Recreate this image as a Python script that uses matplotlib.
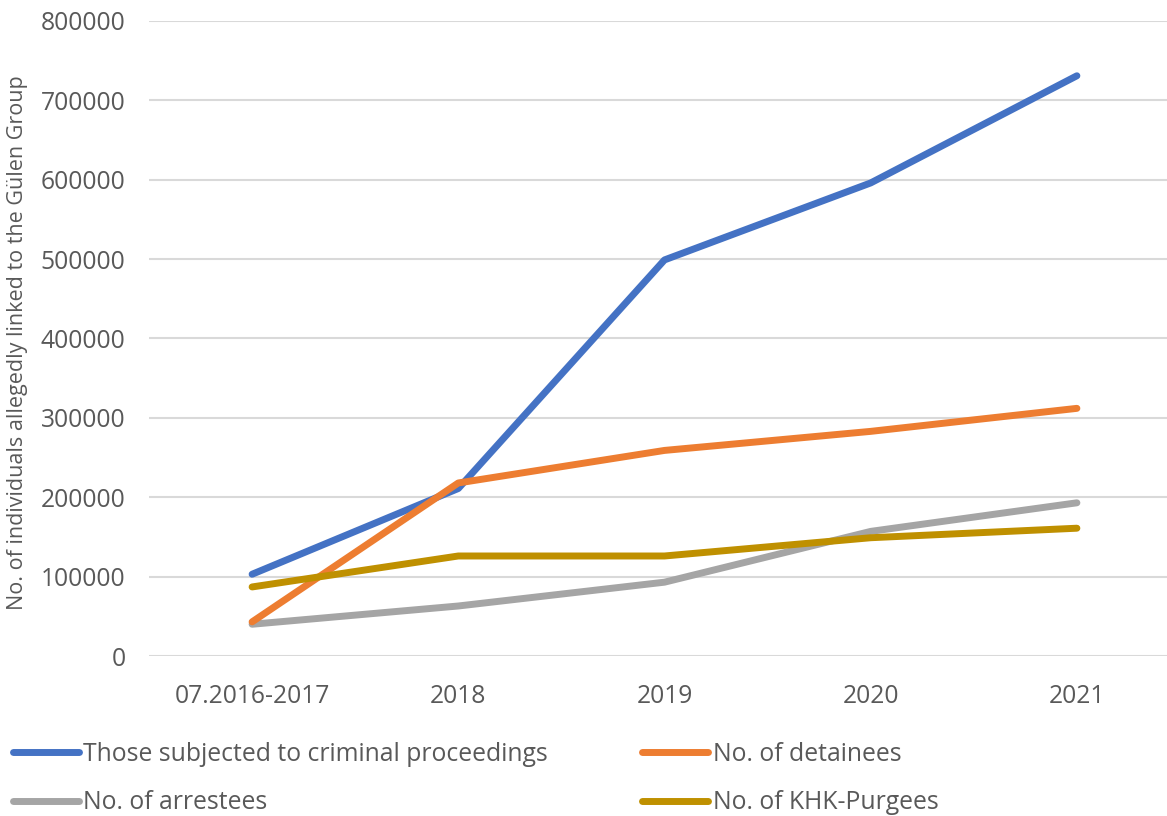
import matplotlib
matplotlib.use("Agg")
import matplotlib.pyplot as plt

# ── data ─────────────────────────────────────────────────────────────────────
periods = ["07.2016-2017", "2018", "2019", "2020", "2021"]
proceedings = [103000, 211000, 499000, 596000, 731000]
detainees = [43000, 218000, 259000, 283000, 312000]
arrestees = [40000, 63000, 93000, 157000, 193000]
khk_purgees = [87000, 126000, 126000, 149000, 161000]

plt.rcParams["font.family"] = ["Open Sans", "DejaVu Sans"]
text_grey = "#595959"

fig = plt.figure(figsize=(11.67, 8.16), dpi=100)
ax = fig.add_axes([149 / 1167, 160 / 816, (1180 - 149) / 1167, (656 - 21) / 816])

x = range(len(periods))
lw = 5
series = [
    (proceedings, "#4472C4", "Those subjected to criminal proceedings"),
    (arrestees, "#A5A5A5", "No. of arrestees"),
    (detainees, "#ED7D31", "No. of detainees"),
    (khk_purgees, "#BF9000", "No. of KHK-Purgees"),
]
# draw order as in the original (blue, orange, grey, gold)
for idx in [0, 2, 1, 3]:
    vals, col, lab = series[idx]
    ax.plot(x, vals, color=col, linewidth=lw, solid_capstyle="round",
            solid_joinstyle="round", label=lab, zorder=3 + idx)

ax.set_xlim(-0.5, 4.5)
ax.set_ylim(0, 800000)
ax.set_yticks(range(0, 800001, 100000))
ax.set_yticklabels([str(v) for v in range(0, 800001, 100000)])
ax.set_xticks(list(x))
ax.set_xticklabels(periods)
ax.grid(axis="y", color="#D9D9D9", linewidth=1.5)
ax.set_axisbelow(True)
for s in ax.spines.values():
    s.set_visible(False)
ax.tick_params(axis="both", length=0, labelsize=17.7, colors=text_grey)
ax.tick_params(axis="y", pad=17)
ax.tick_params(axis="x", pad=20)

fig.text(18 / 1167, 1 - 343 / 816, "No. of individuals allegedly linked to the Gülen Group",
         rotation=90, ha="center", va="center", fontsize=15.5, color=text_grey)

handles = [plt.Line2D([0], [0], color=c, linewidth=lw, solid_capstyle="round")
           for _, c, _ in series]
labels = [l for _, _, l in series]
leg = fig.legend(handles, labels, ncol=2, loc="upper left",
                 bbox_to_anchor=(13 / 1167, 1 - 742 / 816), frameon=False,
                 fontsize=17.8, handlelength=2.65, handletextpad=0.2,
                 borderpad=0, columnspacing=3.8, labelspacing=0.95,
                 borderaxespad=0)
for t in leg.get_texts():
    t.set_color(text_grey)

fig.savefig("out.png", dpi=100)
